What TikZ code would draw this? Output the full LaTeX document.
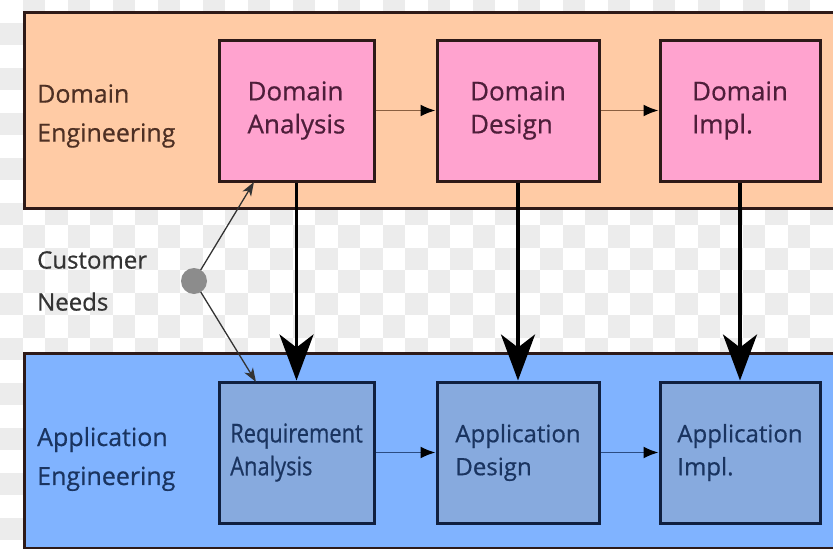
\documentclass[tikz,border=0pt]{standalone}
\usepackage{fontspec}
\setmainfont{Open Sans}[FakeBold=0.6]
\usepackage{graphicx}
\usetikzlibrary{arrows.meta}
\definecolor{checkA}{HTML}{FFFFFF}
\definecolor{checkB}{HTML}{ECECEC}
\definecolor{peach}{HTML}{FFCBA5}
\definecolor{pinkbox}{HTML}{FFA3CF}
\definecolor{bordbrown}{HTML}{2E1A18}
\definecolor{bandblue}{HTML}{80B3FF}
\definecolor{boxblue}{HTML}{87AADE}
\definecolor{bordblue}{HTML}{102040}
\definecolor{txtbrown}{HTML}{4E3024}
\definecolor{txtpink}{HTML}{4E1E3A}
\definecolor{txtblue}{HTML}{1A3460}
\definecolor{lnbrown}{HTML}{8A5F40}
\definecolor{lnblue}{HTML}{2B4C82}
\definecolor{dotgrey}{HTML}{8C8C8C}
\definecolor{txtgrey}{HTML}{333333}
\tikzset{
  band/.style={draw=bordbrown, line width=3pt},
  dombox/.style={draw=bordbrown, fill=pinkbox, line width=3pt, minimum width=155pt, minimum height=141pt, inner sep=0pt, align=left, text=txtpink, font=\fontsize{26}{33}\selectfont},
  appbox/.style={draw=bordblue, fill=boxblue, line width=3pt, minimum width=155pt, minimum height=141pt, inner sep=0pt, align=left, text=txtblue, font=\fontsize{24}{33}\selectfont},
  bandlabel/.style={anchor=west, align=left, inner sep=0pt, font=\fontsize{25}{39}\selectfont},
  bigarrow/.style={line width=3.8pt, -{Stealth[length=46pt, width=34pt, inset=13pt]}},
  smallarrow/.style={line width=1.8pt, -{Latex[length=15pt, width=12pt, color=black]}},
  needarrow/.style={line width=1.3pt, draw=txtgrey, -{Stealth[length=14pt, width=10pt, inset=4pt]}}
}
\begin{document}
\begin{tikzpicture}[x=1pt, y=-1pt]
\useasboundingbox (0,0) rectangle (833,549);
% checkerboard background
\fill[checkA] (0,0) rectangle (833,549);
\foreach \i in {0,...,37} {
  \foreach \j in {0,...,24} {
    \pgfmathtruncatemacro{\cpar}{mod(\i+\j,2)}
    \ifnum\cpar=1
      \fill[checkB] (\i*22.5, \j*22.5) rectangle ++(22.5,22.5);
    \fi
  }
}
% bands
\filldraw[band, fill=peach] (24,12) rectangle (850,208);
\filldraw[band, fill=bandblue] (24,353) rectangle (850,548);
% band labels
\node[bandlabel, text=txtbrown] (domlab) at (37,116) {Domain\\Engineering};
\node[bandlabel, text=txtblue] (applab) at (37,459) {Application\\Engineering};
\node[bandlabel, text=txtgrey, font=\fontsize{24}{42}\selectfont] (cust) at (37,281) {Customer\\Needs};
% domain boxes
\node[dombox] (da) at (296.5,110.5) {Domain\\Analysis};
\node[dombox, minimum width=162pt] (dd) at (518,110.5) {Domain\\Design};
\node[dombox, minimum width=160pt] (di) at (740,110.5) {Domain\\Impl.};
% application boxes
\node[appbox, font=\fontsize{26}{33}\selectfont] (ra) at (296.5,452.5) {\scalebox{0.84}[1]{Requirement}\\\scalebox{0.84}[1]{Analysis}};
\node[appbox, minimum width=162pt] (ad) at (518,452.5) {Application\\Design};
\node[appbox, minimum width=160pt] (ai) at (740,452.5) {Application\\Impl.};
% horizontal arrows
\draw[smallarrow, draw=lnbrown] (da.east) -- (dd.west);
\draw[smallarrow, draw=lnbrown] (dd.east) -- (di.west);
\draw[smallarrow, draw=lnblue] (ra.east) -- (ad.west);
\draw[smallarrow, draw=lnblue] (ad.east) -- (ai.west);
% vertical arrows
\draw[bigarrow] (da.south) -- (ra.north);
\draw[bigarrow] (dd.south) -- (ad.north);
\draw[bigarrow] (di.south) -- (ai.north);
% customer needs
\coordinate (datip) at (254,182);
\coordinate (ratip) at (256,382);
\draw[needarrow] (194,281) -- (datip);
\draw[needarrow] (194,281) -- (ratip);
\node[circle, fill=dotgrey, minimum size=26pt, inner sep=0pt] (dot) at (194,281) {};
\end{tikzpicture}
\end{document}
